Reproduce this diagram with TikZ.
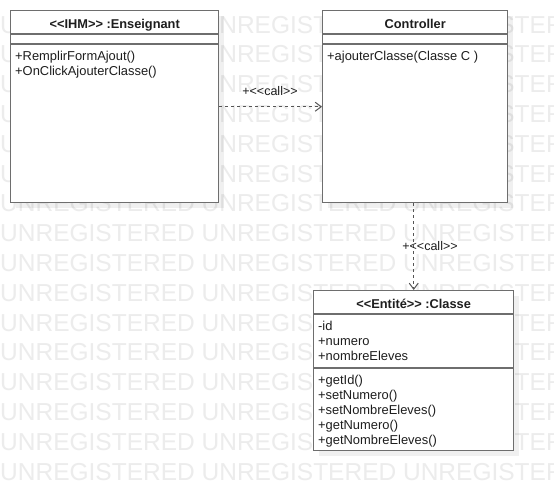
\documentclass[tikz,border=0pt]{standalone}
\usepackage{fontspec}
\setmainfont{Liberation Sans}[Ligatures=TeXOff]
\usetikzlibrary{arrows.meta,calc}
\definecolor{wmgray}{RGB}{236,236,236}
\definecolor{boxgray}{RGB}{110,110,110}
\definecolor{linegray}{RGB}{85,85,85}
\definecolor{txt}{RGB}{30,30,30}
\tikzset{
  umlbox/.style={draw=boxgray, line width=1.4pt, fill=white, rectangle, anchor=north west, inner sep=0pt},
  shadowbox/.style={fill=black, opacity=0.06, draw=none},
  sepline/.style={draw=boxgray, line width=1.4pt},
  hdr/.style={font=\fontsize{12.8}{15}\selectfont\bfseries, text=txt, anchor=base, inner sep=0pt},
  member/.style={font=\fontsize{12.9}{15}\selectfont, text=txt, anchor=base west, inner sep=0pt},
  lbl/.style={font=\fontsize{12.5}{15}\selectfont, text=txt, anchor=base, inner sep=0pt},
  callarrow/.style={draw=linegray, line width=1pt, dash pattern=on 3pt off 3pt, -{Straight Barb[length=6pt,width=9pt,line width=1pt]}},
  wm/.style={font=\fontsize{24.5}{26}\selectfont, text=wmgray, anchor=base west, inner sep=0pt}
}
\begin{document}
\begin{tikzpicture}[x=1pt,y=-1pt]
\useasboundingbox (0,0) rectangle (554,490);
\fill[white] (0,0) rectangle (554,490);
\begin{scope}
\clip (0,0) rectangle (554,490);
\foreach \k in {0,...,15}{
  \node[wm] (wm\k) at (0,{33+29.8*\k}) {UNREGISTERED UNREGISTERED UNREGISTERED};
}
\end{scope}

% shadows
\fill[shadowbox] (16,16) rectangle (224,208);
\fill[shadowbox] (328,16) rectangle (513,208);
\fill[shadowbox] (319,296) rectangle (519,456);

% Enseignant
\node[umlbox, minimum width=208pt, minimum height=192pt] (ens) at (10,10) {};
\draw[sepline] ($(ens.north west)+(0,24)$) -- ($(ens.north east)+(0,24)$);
\draw[sepline] ($(ens.north west)+(0,34)$) -- ($(ens.north east)+(0,34)$);
\node[hdr] (ensT) at ($(ens.north)+(0,18)$) {<<IHM>> :Enseignant};
\node[member] (ensM1) at (15,60) {+RemplirFormAjout()};
\node[member] (ensM2) at (15,75) {+OnClickAjouterClasse()};

% Controller
\node[umlbox, minimum width=185pt, minimum height=192pt] (ctrl) at (322,10) {};
\draw[sepline] ($(ctrl.north west)+(0,24)$) -- ($(ctrl.north east)+(0,24)$);
\draw[sepline] ($(ctrl.north west)+(0,34)$) -- ($(ctrl.north east)+(0,34)$);
\node[hdr] (ctrlT) at ($(ctrl.north)+(0,18)$) {Controller};
\node[member] (ctrlM1) at (327,60) {+ajouterClasse(Classe C )};

% Classe
\node[umlbox, minimum width=200pt, minimum height=160pt] (cls) at (313,290) {};
\draw[sepline] ($(cls.north west)+(0,24)$) -- ($(cls.north east)+(0,24)$);
\draw[sepline] ($(cls.north west)+(0,78)$) -- ($(cls.north east)+(0,78)$);
\node[hdr] (clsT) at ($(cls.north)+(0,18)$) {<<Entité>> :Classe};
\node[member] (clsA1) at (318,330) {-id};
\node[member] (clsA2) at (318,345) {+numero};
\node[member] (clsA3) at (318,360) {+nombreEleves};
\node[member] (clsM1) at (318,384) {+getId()};
\node[member] (clsM2) at (318,399) {+setNumero()};
\node[member] (clsM3) at (318,414) {+setNombreEleves()};
\node[member] (clsM4) at (318,429) {+getNumero()};
\node[member] (clsM5) at (318,444) {+getNombreEleves()};

% connectors
\draw[callarrow] (ens.east) -- (ctrl.west);
\node[lbl] (l1) at (270,95.5) {+<<call>>};
\draw[callarrow] (ctrl.south -| cls.north) -- (cls.north);
\node[lbl] (l2) at (430,250) {+<<call>>};
\end{tikzpicture}
\end{document}
